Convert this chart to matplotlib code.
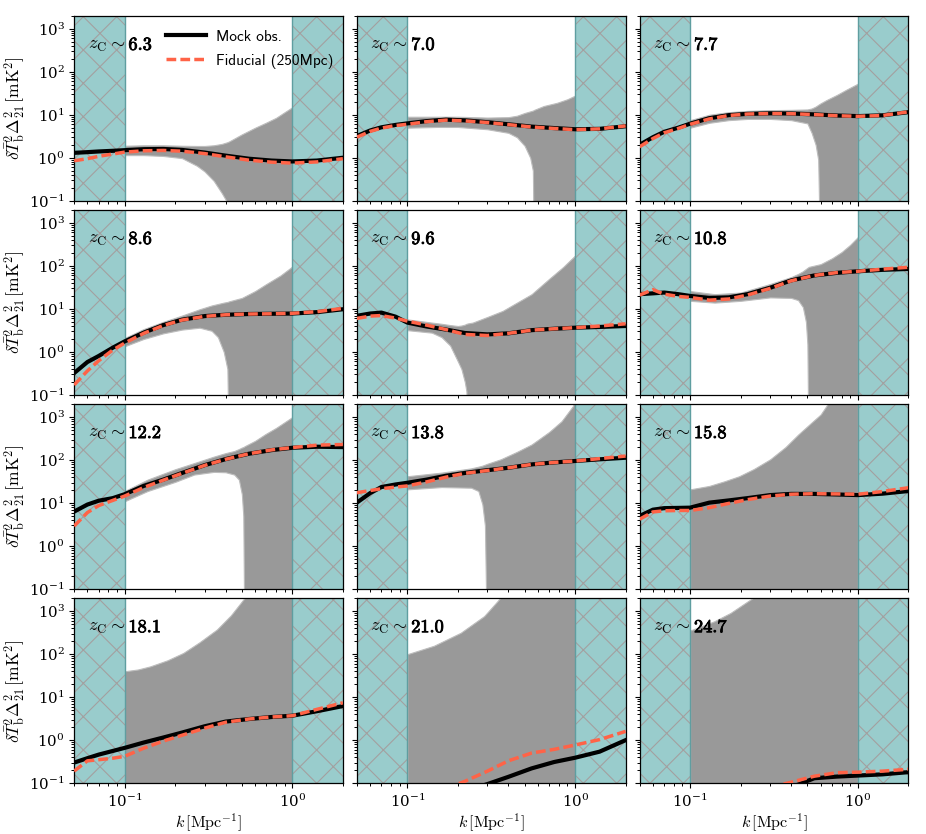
import numpy as np
import matplotlib
matplotlib.use('Agg')
import matplotlib.pyplot as plt
import matplotlib.patheffects as pe

nan = np.nan

# redshift de chaque panneau
z_labels = ['6.3', '7.0', '7.7', '8.6', '9.6', '10.8',
            '12.2', '13.8', '15.8', '18.1', '21.0', '24.7']

# grille en k pour les courbes
k_line = [0.05, 0.06, 0.07, 0.085, 0.1, 0.13, 0.17, 0.22, 0.3, 0.4, 0.55, 0.75, 1.0, 1.4, 2.0]

mock_obs = [
    [1.3, 1.35, 1.4, 1.45, 1.5, 1.58, 1.6, 1.52, 1.32, 1.12, 0.95, 0.86, 0.82, 0.86, 1.0],
    [3.2, 4.3, 5.1, 5.8, 6.3, 7.1, 7.7, 7.4, 6.7, 6.0, 5.3, 4.9, 4.6, 4.7, 5.4],
    [2.0, 3.0, 4.0, 5.0, 6.2, 8.3, 9.8, 10.5, 10.8, 10.7, 10.2, 9.6, 9.3, 9.7, 11.5],
    [0.32, 0.58, 0.8, 1.25, 1.75, 2.8, 4.2, 5.6, 6.8, 7.3, 7.6, 7.7, 7.8, 8.4, 9.8],
    [6.9, 7.8, 8.2, 6.6, 4.8, 3.9, 3.3, 2.75, 2.55, 2.7, 3.2, 3.45, 3.65, 3.8, 4.0],
    [22, 23, 24, 22, 20, 18, 18.5, 22, 31, 46, 60, 69, 75, 81, 85],
    [6.3, 9.2, 11.3, 13, 16, 25, 35, 50, 76, 105, 140, 170, 193, 204, 200],
    [10.2, 17, 23.5, 27, 29.6, 35, 43, 50, 58, 66, 79, 88, 95, 104, 113],
    [5.0, 7.0, 7.6, 7.7, 7.8, 10.2, 11.5, 13, 15.3, 16.3, 16.3, 15.8, 15.3, 16.5, 19],
    [0.3, 0.38, 0.46, 0.56, 0.66, 0.88, 1.15, 1.5, 2.1, 2.7, 3.1, 3.45, 3.7, 4.7, 6.2],
    [nan, nan, nan, nan, nan, nan, nan, 0.065, 0.095, 0.14, 0.22, 0.31, 0.39, 0.54, 1.0],
    [nan, nan, nan, nan, nan, nan, nan, nan, nan, 0.08, 0.13, 0.142, 0.15, 0.16, 0.18],
]

fiducial = [
    [0.85, 0.95, 1.08, 1.22, 1.35, 1.45, 1.48, 1.42, 1.25, 1.05, 0.88, 0.79, 0.75, 0.8, 0.95],
    [3.0, 4.1, 4.9, 5.6, 6.0, 6.9, 7.5, 7.2, 6.6, 5.9, 5.2, 4.8, 4.5, 4.7, 5.5],
    [1.8, 2.8, 3.8, 4.8, 6.0, 8.0, 9.6, 10.4, 10.7, 10.6, 10.1, 9.5, 9.2, 9.6, 11.7],
    [0.17, 0.36, 0.62, 1.1, 1.6, 2.7, 4.1, 5.5, 6.7, 7.3, 7.6, 7.7, 7.9, 8.6, 10.3],
    [6.0, 6.8, 7.0, 6.1, 5.2, 4.2, 3.3, 2.55, 2.4, 2.7, 3.2, 3.45, 3.65, 4.0, 4.5],
    [21, 28, 22, 19.5, 18.5, 16, 17, 21, 30, 45, 60, 70, 75, 84, 93],
    [2.9, 6.0, 8.7, 11.5, 14.5, 23, 34, 49, 75, 104, 140, 172, 195, 222, 230],
    [17.4, 19.5, 21.5, 23.5, 25, 31, 40, 49, 57, 66, 79, 88, 95, 108, 124],
    [4.2, 6.2, 6.6, 6.7, 6.7, 7.8, 9.8, 12, 14.5, 16, 16.5, 16.3, 16, 18.5, 22.7],
    [0.19, 0.33, 0.35, 0.38, 0.42, 0.65, 0.95, 1.3, 1.9, 2.6, 3.1, 3.45, 3.7, 5.2, 7.4],
    [nan, nan, nan, nan, nan, nan, 0.075, 0.11, 0.19, 0.33, 0.5, 0.61, 0.77, 1.03, 1.6],
    [nan, nan, nan, nan, nan, nan, nan, nan, 0.08, 0.105, 0.145, 0.175, 0.18, 0.19, 0.21],
]

# bande d'erreur (1e-3 = sous l'axe)
band_k = [
    [0.1, 0.13, 0.17, 0.22, 0.27, 0.3, 0.34, 0.38, 0.41, 0.42, 0.5, 0.6, 0.7, 0.8, 0.9, 1.0],
    [0.1, 0.15, 0.2, 0.3, 0.4, 0.45, 0.5, 0.54, 0.56, 0.57, 0.65, 0.78, 0.9, 1.0],
    [0.1, 0.13, 0.17, 0.22, 0.3, 0.4, 0.5, 0.53, 0.56, 0.58, 0.6, 0.65, 0.75, 0.85, 1.0],
    [0.1, 0.13, 0.17, 0.22, 0.28, 0.33, 0.36, 0.39, 0.41, 0.42, 0.5, 0.6, 0.7, 0.85, 1.0],
    [0.1, 0.14, 0.16, 0.18, 0.2, 0.21, 0.22, 0.225, 0.23, 0.245, 0.3, 0.37, 0.45, 0.55, 0.7, 0.85, 1.0],
    [0.1, 0.14, 0.2, 0.3, 0.4, 0.44, 0.47, 0.49, 0.5, 0.51, 0.6, 0.7, 0.8, 0.9, 1.0],
    [0.1, 0.137, 0.2, 0.26, 0.34, 0.4, 0.45, 0.48, 0.5, 0.51, 0.52, 0.6, 0.69, 0.8, 0.9, 1.0],
    [0.1, 0.16, 0.24, 0.265, 0.28, 0.29, 0.3, 0.36, 0.45, 0.55, 0.7, 0.83, 0.97, 1.0],
    [0.1, 0.13, 0.16, 0.196, 0.24, 0.3, 0.37, 0.44, 0.52, 0.6, 0.66, 1.0],
    [0.1, 0.12, 0.142, 0.18, 0.224, 0.28, 0.355, 0.43, 0.51, 0.6, 1.0],
    [0.1, 0.144, 0.208, 0.287, 0.344, 0.4, 1.0],
    [0.1, 0.139, 0.174, 0.235, 0.3, 1.0],
]
band_hi = [
    [1.9, 1.95, 1.95, 1.9, 1.88, 1.88, 1.95, 2.1, 2.3, 2.4, 3.5, 5.0, 6.6, 8.5, 11.5, 15],
    [9, 9, 9, 8.6, 8.8, 9.5, 11, 12, 12.5, 13, 16, 19, 23, 28],
    [7.5, 10, 11.5, 12.3, 12.8, 13, 13.3, 14, 15.5, 17, 18.5, 22, 29, 38, 53],
    [2.1, 3.4, 5.0, 7.0, 9.8, 12, 13, 14, 14.5, 15, 18, 26, 38, 60, 97],
    [5.7, 4.8, 4.5, 4.2, 4.0, 4.1, 4.3, 4.5, 4.6, 4.8, 6.5, 9, 14, 22, 50, 95, 175],
    [26, 22, 24, 38, 55, 65, 75, 85, 90, 95, 110, 150, 210, 310, 470],
    [19, 35, 61, 85, 120, 145, 162, 180, 195, 200, 210, 280, 400, 560, 760, 1000],
    [42, 51, 64, 70, 74, 78, 82, 104, 155, 230, 450, 800, 1800, 2500],
    [20.8, 25, 32, 42, 62, 104, 200, 390, 700, 1150, 2000, 5000],
    [40, 44, 52, 72, 107, 190, 375, 800, 1860, 4000, 1e5],
    [100, 157, 315, 770, 1700, 3500, 1e5],
    [355, 580, 910, 2000, 4000, 1e5],
]
band_lo = [
    [1.15, 1.15, 1.1, 0.98, 0.65, 0.48, 0.29, 0.15, 0.09] + [1e-3] * 7,
    [5, 5.2, 5.2, 4.6, 3.8, 3.0, 1.9, 1.0, 0.5] + [1e-3] * 5,
    [5, 6.5, 7.5, 8, 8, 7.5, 6.3, 3.8, 2.0, 0.9] + [1e-3] * 5,
    [1.35, 2.0, 2.7, 3.3, 3.65, 3.1, 2.2, 1.0, 0.4] + [1e-3] * 6,
    [3.2, 2.8, 2.2, 1.4, 0.6, 0.4, 0.2, 0.12] + [1e-3] * 9,
    [15.4, 14, 15.4, 18.5, 18, 16, 11, 5, 1.5] + [1e-3] * 6,
    [11, 19, 31, 46, 53, 52, 46, 35, 16, 5] + [1e-3] * 6,
    [20.8, 23.5, 22.7, 19, 9.3, 3] + [1e-3] * 8,
    [1e-3] * 12,
    [1e-3] * 11,
    [1e-3] * 7,
    [1e-3] * 6,
]

k_cut_lo = (0.05, 0.1)
k_cut_hi = (1.0, 2.0)

plt.rcParams['mathtext.fontset'] = 'cm'
plt.rcParams['font.family'] = 'serif'
plt.rcParams['font.serif'] = ['DejaVu Serif']
plt.rcParams['axes.linewidth'] = 0.45
plt.rcParams['hatch.linewidth'] = 0.4
for ax_name in ['xtick', 'ytick']:
    plt.rcParams[ax_name + '.major.size'] = 1.8
    plt.rcParams[ax_name + '.minor.size'] = 1.0
    plt.rcParams[ax_name + '.major.width'] = 0.4
    plt.rcParams[ax_name + '.minor.width'] = 0.35
    plt.rcParams[ax_name + '.labelsize'] = 5.4
    plt.rcParams[ax_name + '.major.pad'] = 1.6

# figure en dpi 200 (tailles en points divisees par deux)
fig, axs = plt.subplots(4, 3, figsize=(4.63, 4.17), dpi=200, sharex=True, sharey=True)
fig.subplots_adjust(left=0.080, right=0.981, top=0.981, bottom=0.061, wspace=0.052, hspace=0.05)

bold = [pe.withStroke(linewidth=0.3, foreground='black')]

for i, ax in enumerate(axs.flat):
    ax.set_xscale('log')
    ax.set_yscale('log')
    ax.fill_between(band_k[i], band_lo[i], band_hi[i], facecolor='#999999',
                    edgecolor='#bdbdbd', linewidth=0.4, zorder=1)
    for lo, hi in [k_cut_lo, k_cut_hi]:
        ax.axvspan(lo, hi, facecolor='#99cccc', edgecolor='none', zorder=2)
        # 'xx' a 200 dpi : maille d'environ 33 px
        ax.axvspan(lo, hi, facecolor='none', edgecolor='#a3a0a0', hatch='xx', linewidth=0, zorder=2.1)
    ax.axvline(k_cut_lo[1], color='#5f9ea0', lw=0.5, zorder=2.2)
    ax.axvline(k_cut_hi[0], color='#5f9ea0', lw=0.5, zorder=2.2)

    ax.plot(k_line, mock_obs[i], color='black', lw=1.5, zorder=3, label='Mock obs.')
    ax.plot(k_line, fiducial[i], color='#ff6347', lw=1.25, ls=(0, (2.8, 1.2)), zorder=3.1,
            label='Fiducial (250Mpc)')

    t = ax.text(0.05, 0.843, r'$z_{\rm C} \sim$', transform=ax.transAxes,
                fontsize=6.6, va='center', ha='left', zorder=4)
    ax.annotate(r'$\mathbf{' + z_labels[i] + '}$', xy=(1, 0.5), xycoords=t,
                xytext=(1.3, 0), textcoords='offset points',
                fontsize=6.6, va='center', ha='left', zorder=4, path_effects=bold)

    ax.set_xlim(0.05, 2.0)
    ax.set_ylim(0.1, 2000)

    if i % 3 == 0:
        ax.set_ylabel(r'$\delta \bar{T}_{\rm b}^2 \Delta^2_{21}\,[\mathrm{mK}^2]$', fontsize=6.3)
        ax.yaxis.set_label_coords(-0.172, 0.5)
    if i >= 9:
        ax.set_xlabel(r'$k\,[\mathrm{Mpc}^{-1}]$', fontsize=5.8, labelpad=0.6)

axs[0, 0].legend(loc='upper left', bbox_to_anchor=(0.29, 1.0), frameon=False,
                 prop={'family': 'cmss10', 'size': 5.5}, handlelength=2.6,
                 handletextpad=0.7, labelspacing=0.65, borderaxespad=0.5)

fig.savefig('out.png', dpi=200)
